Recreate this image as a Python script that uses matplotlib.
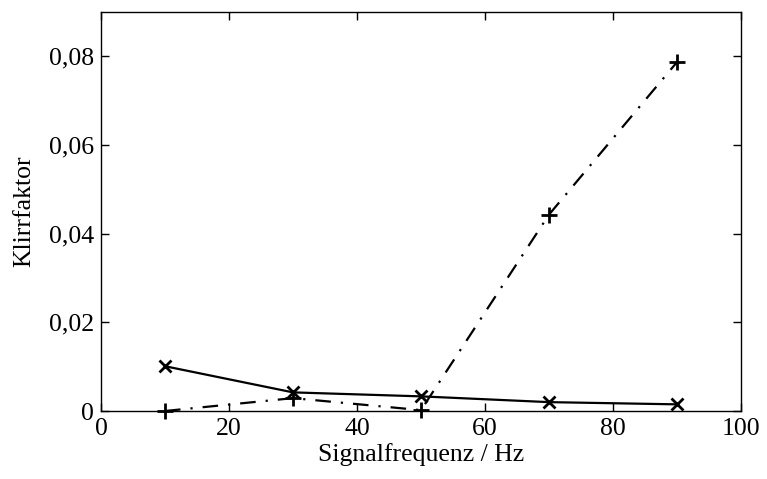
import matplotlib
matplotlib.use("Agg")
import matplotlib.pyplot as plt

freq = [10, 30, 50, 70, 90]
klirr_solid = [0.0101, 0.0042, 0.0033, 0.0020, 0.0015]
klirr_dashdot = [0.0000, 0.0029, 0.0002, 0.0443, 0.0787]

xticks = [0, 20, 40, 60, 80, 100]
yticks = [0, 0.02, 0.04, 0.06, 0.08]
ytick_labels = ["0", "0,02", "0,04", "0,06", "0,08"]

plt.rcParams['font.family'] = ['Liberation Serif', 'DejaVu Serif']

fig = plt.figure(figsize=(7.67, 4.79), dpi=100)
ax = fig.add_axes([101/767, 1 - 411/479, 640/767, 399/479])

ax.plot(freq, klirr_solid, color='black', linestyle='-', linewidth=1.6,
        marker='x', markersize=9, markeredgewidth=2, clip_on=False, zorder=3)
ax.plot(freq, klirr_dashdot, color='black', linestyle=(0, (7, 4.5, 1, 4.5)), linewidth=1.6,
        marker='+', markersize=11, markeredgewidth=2, clip_on=False, zorder=3)

ax.set_xlim(0, 100)
ax.set_ylim(0, 0.09)
ax.set_xticks(xticks)
ax.set_xticklabels([str(v) for v in xticks])
ax.set_yticks(yticks)
ax.set_yticklabels(ytick_labels)
ax.tick_params(direction='in', top=True, right=True, length=6, width=1,
               labelsize=18.5, pad=5)
for s in ax.spines.values():
    s.set_linewidth(1)

ax.set_xlabel('Signalfrequenz / Hz', fontsize=18.5, labelpad=2)
ax.set_ylabel('Klirrfaktor', fontsize=18.5, labelpad=10)

fig.savefig('out.png', dpi=100)
